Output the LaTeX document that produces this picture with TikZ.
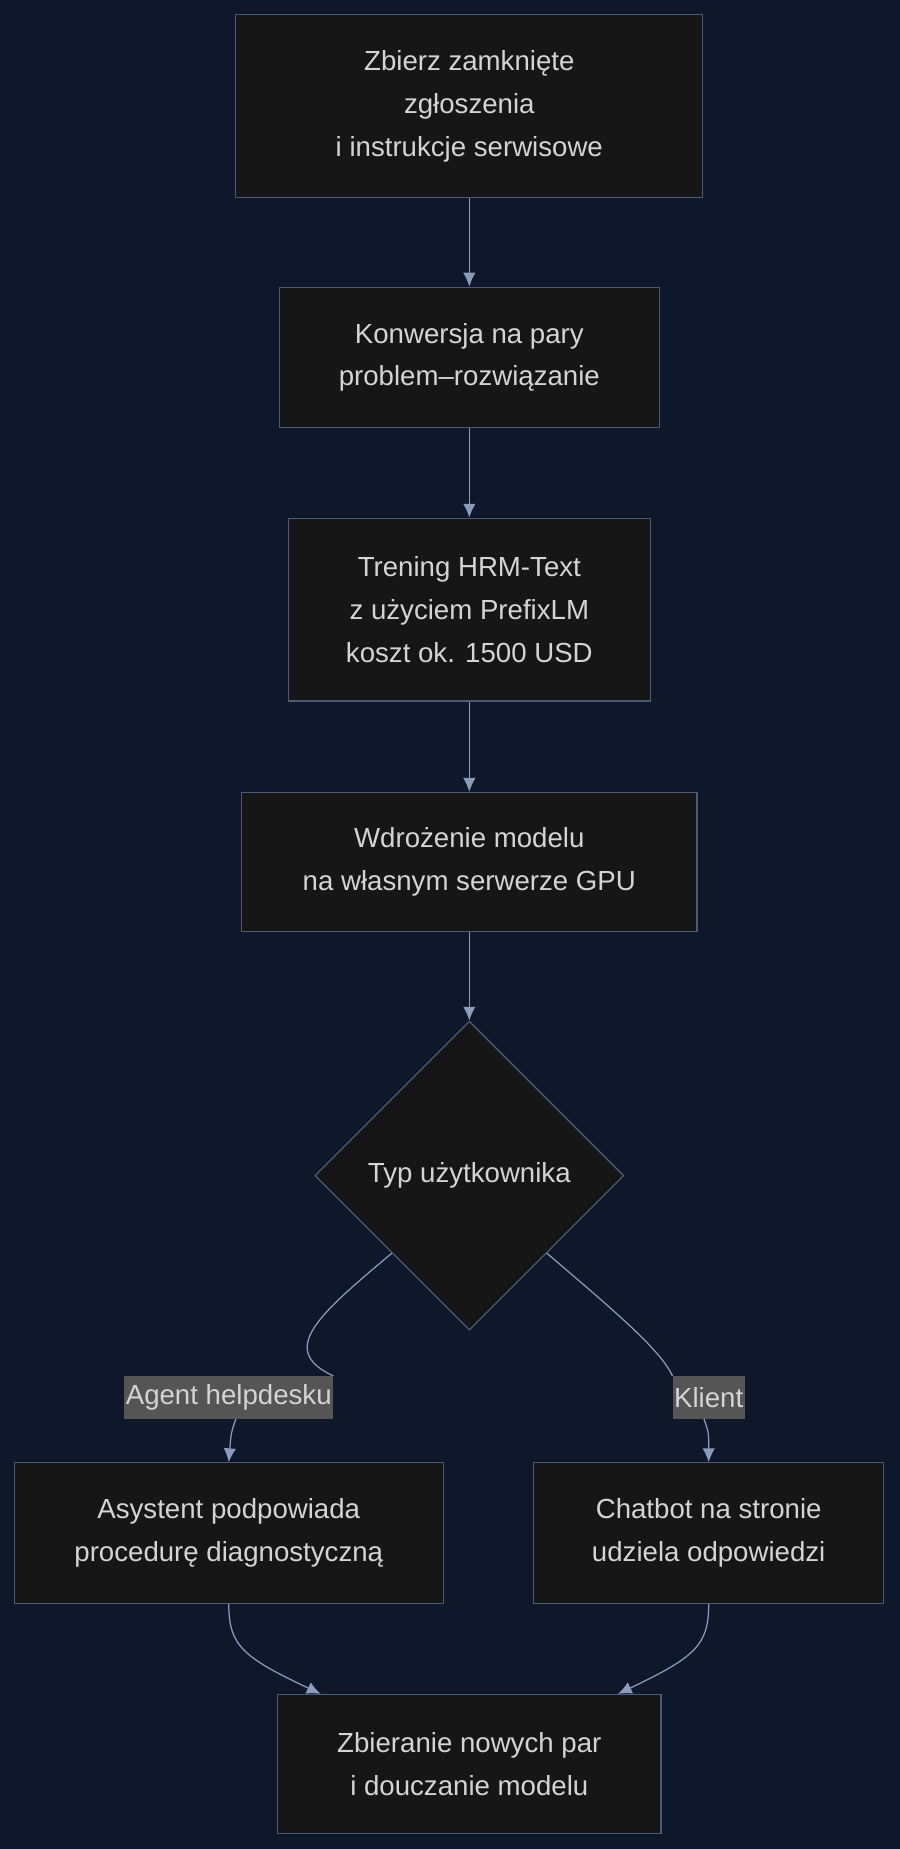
\documentclass[tikz,border=0pt]{standalone}
\usepackage{fontspec}
\setmainfont{Liberation Sans}
\usetikzlibrary{shapes.geometric,arrows.meta}
\definecolor{bgnavy}{HTML}{0F172A}
\definecolor{boxfill}{HTML}{161616}
\definecolor{boxline}{HTML}{4B5A78}
\definecolor{arrline}{HTML}{8A9BBD}
\definecolor{txt}{HTML}{D4D4D4}
\definecolor{lblfill}{HTML}{555555}
\tikzset{
  stepbox/.style={draw=boxline, fill=boxfill, text=txt, align=center, line width=0.9pt,
    font=\fontsize{20}{31}\selectfont},
  choice/.style={diamond, aspect=1, draw=boxline, fill=boxfill, text=txt, line width=0.9pt,
    minimum width=7.86cm, minimum height=7.86cm, inner sep=0pt, font=\fontsize{20}{31}\selectfont},
  lbl/.style={fill=lblfill, text=txt, inner xsep=1pt, inner ysep=0pt, minimum height=1.08cm,
    font=\fontsize{20}{31}\selectfont},
  arr/.style={draw=arrline, line width=0.9pt, -{Latex[length=10pt,width=9pt]}},
  link/.style={draw=arrline, line width=0.9pt}
}
\begin{document}
\begin{tikzpicture}[x=0.03cm, y=-0.03cm]
  \fill[bgnavy] (0,0) rectangle (763,1568);
  \useasboundingbox (0,0) rectangle (763,1568);

  \node[stepbox, minimum width=11.88cm, minimum height=4.65cm] (collect) at (398,90)
    {Zbierz zamknięte\\zgłoszenia\\i instrukcje serwisowe};
  \node[stepbox, minimum width=9.66cm, minimum height=3.57cm] (convert) at (398,303)
    {Konwersja na pary\\problem–rozwiązanie};
  \node[stepbox, minimum width=9.21cm, minimum height=4.65cm] (train) at (398,517)
    {Trening HRM-Text\\z użyciem PrefixLM\\koszt ok. 1500 USD};
  \node[stepbox, minimum width=11.58cm, minimum height=3.54cm] (deploy) at (398,731)
    {Wdrożenie modelu\\na własnym serwerze GPU};
  \node[choice] (usertype) at (398,997) {Typ użytkownika};
  \node[lbl] (agentlbl) at (194,1185) {Agent helpdesku};
  \node[lbl] (clientlbl) at (601,1185) {Klient};
  \node[stepbox, minimum width=10.92cm, minimum height=3.57cm] (assist) at (194,1300)
    {Asystent podpowiada\\procedurę diagnostyczną};
  \node[stepbox, minimum width=8.91cm, minimum height=3.57cm] (chatbot) at (601,1300)
    {Chatbot na stronie\\udziela odpowiedzi};
  \node[stepbox, minimum width=9.75cm, minimum height=3.54cm] (retrain) at (398,1496)
    {Zbieranie nowych par\\i douczanie modelu};

  \draw[arr] (collect) -- (convert);
  \draw[arr] (convert) -- (train);
  \draw[arr] (train) -- (deploy);
  \draw[arr] (deploy) -- (usertype);

  % branches
  \draw[link] (usertype.south west) .. controls (270,1115) and (235,1145) .. (agentlbl.north east);
  \draw[arr] (agentlbl.south) ++(6,0) coordinate (a1) (a1) .. controls (196,1215) .. (assist.north);
  \draw[link] (usertype.south east) .. controls (525,1115) and (560,1145) .. (clientlbl.north west);
  \draw[arr] (clientlbl.south) ++(-4,0) coordinate (c1) (c1) .. controls (601,1215) .. (chatbot.north);

  \coordinate (in1) at ([xshift=1.11cm]retrain.north west);
  \coordinate (in2) at ([xshift=-1.11cm]retrain.north east);
  \draw[arr] (assist.south) .. controls (194,1395) and (205,1405) .. (in1);
  \draw[arr] (chatbot.south) .. controls (601,1395) and (590,1405) .. (in2);
\end{tikzpicture}
\end{document}
